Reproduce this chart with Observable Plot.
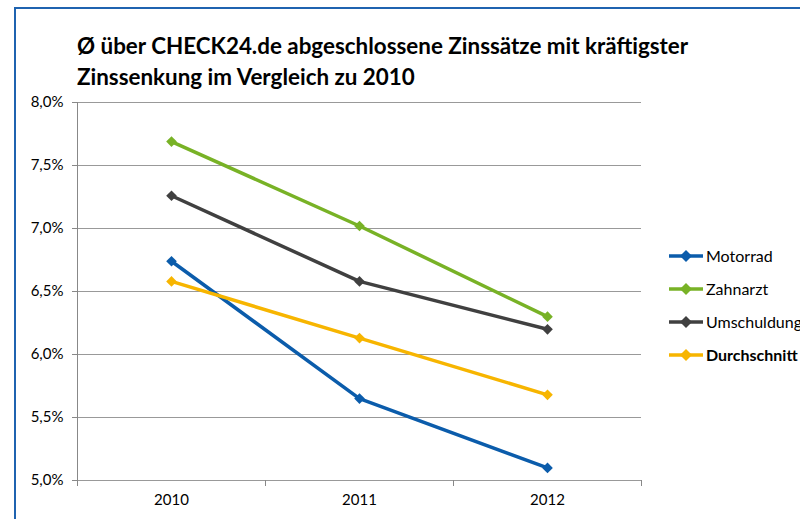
<!DOCTYPE html>
<html><head><meta charset="utf-8">
<script src="https://cdn.jsdelivr.net/npm/d3@7"></script>
<script src="https://cdn.jsdelivr.net/npm/@observablehq/plot@0.6"></script>
<style>
body{margin:0;background:#fff;}
#wrap{position:relative;width:800px;height:519px;overflow:hidden;font-family:Lato,"Open Sans",sans-serif;}
#frame{position:absolute;left:14px;top:7px;width:900px;height:600px;border-left:2px solid #1F63B0;border-top:2px solid #1F63B0;}
#title{position:absolute;left:77px;top:30px;font-size:22.4px;font-weight:bold;line-height:31px;color:#000;}
#legend{position:absolute;left:668px;top:246px;font-size:16px;color:#000;}
#legend div{height:33px;display:flex;align-items:flex-start;}
#legend span{margin-left:2px;line-height:20px;}
#chart{position:absolute;left:0;top:0;}
</style></head>
<body><div id="wrap"><div id="frame"></div><div id="chart"></div>
<div id="title">Ø über CHECK24.de abgeschlossene Zinssätze mit kräftigster<br>Zinssenkung im Vergleich zu 2010</div>
<div id="legend"></div></div>
<script>
const years = [2010, 2011, 2012];
const seriesNames = ["Motorrad", "Zahnarzt", "Umschuldung", "Durchschnitt"];
const motorrad = [6.74, 5.65, 5.10];
const zahnarzt = [7.69, 7.02, 6.30];
const umschuldung = [7.26, 6.58, 6.20];
const durchschnitt = [6.58, 6.13, 5.68];
const yTicks = [5.0, 5.5, 6.0, 6.5, 7.0, 7.5, 8.0];
const colors = ["#0B5CAB", "#78B226", "#404040", "#F7B500"];

const valuesBySeries = [motorrad, zahnarzt, umschuldung, durchschnitt];
const data = [];
seriesNames.forEach((s, i) => years.forEach((yr, j) => data.push({series: s, year: yr, value: valuesBySeries[i][j]})));
const boundaries = [years[0] - 0.5, ...years.map(y => y + 0.5)];

const chart = Plot.plot({
  width: 800, height: 519,
  marginLeft: 77, marginRight: 159, marginTop: 102, marginBottom: 39,
  style: {fontFamily: "Lato, 'Open Sans', sans-serif", fontSize: "15px", background: "transparent", color: "#000"},
  x: {domain: [years[0] - 0.5, years[years.length - 1] + 0.5]},
  y: {domain: [yTicks[0], yTicks[yTicks.length - 1]]},
  color: {domain: seriesNames, range: colors},
  marks: [
    Plot.gridY(yTicks, {stroke: "#999", strokeOpacity: 1, strokeWidth: 1}),
    Plot.ruleX([boundaries[0]], {stroke: "#888", y1: yTicks[0], y2: yTicks[yTicks.length - 1]}),
    Plot.axisY({ticks: yTicks, tickSize: 5, tickPadding: 9, stroke: "#888", tickFormat: d => d.toFixed(1).replace(".", ",") + "%", label: null, fill: "#000"}),
    Plot.axisX({ticks: boundaries, tickSize: 6, tickFormat: () => "", stroke: "#888", label: null}),
    Plot.axisX({ticks: years, tickSize: 0, tickPadding: 14, tickFormat: d => String(d), label: null, fill: "#000"}),
    Plot.line(data, {x: "year", y: "value", z: "series", stroke: "series", strokeWidth: 3.5}),
    Plot.dot(data, {x: "year", y: "value", fill: "series", symbol: "diamond2", r: 4.8, stroke: null})
  ]
});
document.getElementById("chart").appendChild(chart);

const leg = document.getElementById("legend");
seriesNames.forEach((s, i) => {
  const d = document.createElement("div");
  d.innerHTML = `<svg width="36" height="20"><line x1="1" y1="10" x2="35" y2="10" stroke="${colors[i]}" stroke-width="3.5"/><path d="M18 4 L24 10 L18 16 L12 10 Z" fill="${colors[i]}"/></svg><span style="font-weight:${s === "Durchschnitt" ? "bold" : "normal"}">${s}</span>`;
  leg.appendChild(d);
});
</script></body></html>
